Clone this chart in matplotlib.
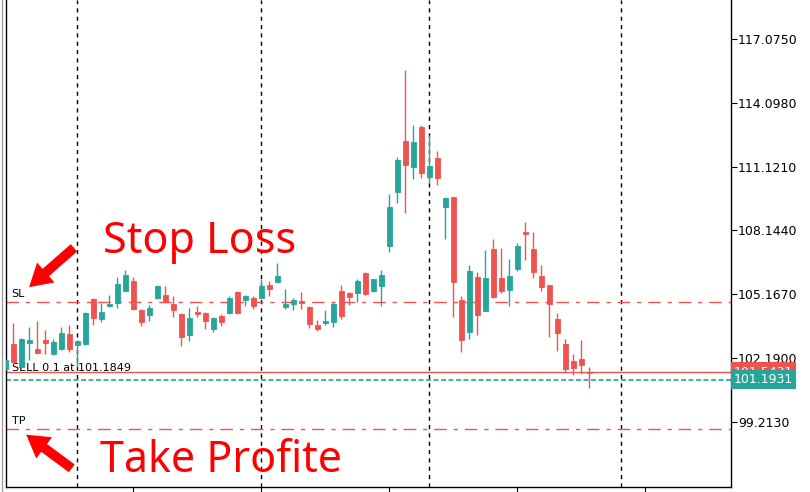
import matplotlib
matplotlib.use("Agg")
import matplotlib.pyplot as plt
from matplotlib.lines import Line2D
from matplotlib.transforms import blended_transform_factory

# candle data (open, high, low, close)
opens = [101.68, 102.85, 101.79, 102.88, 102.62, 103.04, 102.37, 102.63, 103.32, 102.80,
         102.84, 104.95, 104.00, 104.62, 104.78, 105.34, 105.79, 104.44, 104.20, 105.01,
         105.14, 104.72, 104.25, 103.27, 104.34, 104.31, 103.55, 104.16, 104.31, 105.29,
         104.90, 105.01, 105.01, 105.60, 105.76, 104.59, 104.72, 104.86, 104.59, 103.74,
         103.84, 103.89, 105.32, 105.21, 105.24, 106.18, 105.32, 105.57, 107.43, 109.95,
         112.33, 111.12, 112.98, 110.65, 111.52, 109.25, 109.72, 104.90, 103.42, 105.97,
         104.40, 107.28, 105.93, 105.38, 106.36, 108.07, 107.28, 106.02, 105.60, 104.02,
         102.85, 102.06, 102.15, 101.54]
highs = [102.20, 103.82, 103.13, 103.66, 103.94, 103.50, 103.07, 103.66, 103.74, 103.04,
         104.34, 105.00, 104.78, 105.14, 105.99, 106.30, 105.99, 104.48, 104.67, 105.60,
         105.55, 105.09, 104.30, 104.51, 104.62, 104.34, 104.11, 104.25, 105.09, 105.32,
         105.15, 105.09, 105.87, 105.80, 106.64, 105.40, 104.98, 105.29, 104.62, 103.97,
         104.44, 104.82, 105.60, 105.29, 105.87, 106.21, 105.88, 106.30, 109.85, 111.59,
         115.63, 113.06, 113.06, 112.60, 111.87, 109.72, 109.72, 105.09, 106.53, 106.19,
         107.23, 107.73, 107.33, 106.81, 107.56, 108.54, 108.07, 106.53, 105.60, 104.31,
         103.08, 102.40, 103.04, 101.78]
lows = [101.64, 102.00, 101.73, 102.10, 102.38, 102.38, 102.34, 102.57, 102.49, 101.79,
        102.80, 103.74, 103.89, 104.58, 104.51, 105.32, 104.44, 103.70, 103.92, 104.93,
        104.75, 104.12, 102.76, 103.00, 104.12, 103.55, 103.42, 103.70, 104.25, 104.25,
        104.64, 104.48, 104.98, 105.09, 105.74, 104.48, 104.44, 104.48, 103.58, 103.47,
        103.74, 103.66, 104.02, 104.67, 104.79, 105.14, 105.26, 104.64, 107.15, 109.44,
        108.97, 110.56, 110.61, 110.37, 110.27, 107.75, 104.12, 102.49, 103.08, 103.27,
        104.39, 105.00, 105.24, 104.64, 106.27, 106.77, 105.94, 105.34, 103.19, 102.54,
        101.51, 101.40, 101.45, 100.80]
closes = [102.10, 102.01, 103.07, 103.04, 102.42, 102.88, 102.94, 103.38, 102.63, 103.00,
          104.28, 104.06, 104.36, 104.70, 105.65, 106.07, 104.47, 103.89, 104.51, 105.55,
          104.79, 104.44, 103.19, 104.05, 104.25, 103.92, 104.06, 103.88, 105.01, 104.31,
          105.09, 104.64, 105.55, 105.40, 106.02, 104.72, 104.90, 104.75, 103.78, 103.55,
          103.92, 104.72, 104.16, 105.06, 105.79, 105.18, 105.87, 106.07, 109.25, 111.43,
          111.20, 112.27, 110.84, 111.15, 110.61, 109.67, 105.76, 103.04, 106.27, 104.20,
          105.93, 105.06, 105.34, 106.02, 107.42, 107.99, 106.22, 105.52, 104.73, 103.38,
          101.70, 101.74, 101.88, 101.50]

separators = [9, 32, 53, 77]          # period separator candles
time_ticks = [16, 32, 48, 64, 80]
price_ticks = [99.2130, 102.1900, 105.1670, 108.1440, 111.1210, 114.0980, 117.0750]

stop_loss = 104.81
take_profit = 98.88
ask_price = 101.5431
bid_price = 101.1931

up_col = "#26a69a"
down_col = "#ef5350"

fig = plt.figure(figsize=(8.1, 4.92), dpi=100)
ax = fig.add_axes([6 / 810, 5 / 492, 725 / 810, 487 / 492])
ax.set_xlim(0.09, 90.7)
ax.set_ylim(96.18, 118.894)

# separators
for s in separators:
    ax.axvline(s, color="black", lw=1.0, ls=(0, (3, 3)), zorder=1)

# candles
for i in range(len(opens)):
    o, h, l, c = opens[i], highs[i], lows[i], closes[i]
    col = up_col if c > o else down_col
    ax.vlines(i, l, h, color=col, lw=1.0, zorder=3)
    ax.bar(i, abs(c - o), bottom=min(o, c), width=0.62, color=col,
           edgecolor=col, linewidth=0.6, zorder=4)

# SL / TP lines
for lvl in (stop_loss, take_profit):
    ax.axhline(lvl, color="#ef5350", lw=1.0, ls=(0, (9, 5, 3, 5)), zorder=2)
ax.axhline(ask_price, color="#ef5350", lw=1.0, zorder=2)
ax.axhline(bid_price, color=up_col, lw=1.2, ls=(0, (3, 1.5)), zorder=2)

ax.text(0.8, stop_loss + 0.25, "SL", fontsize=8, color="black")
ax.text(0.8, take_profit + 0.25, "TP", fontsize=8, color="black")
ax.text(0.8, ask_price + 0.05, "SELL 0.1 at 101.1849", fontsize=8, color="black")

# axes styling
ax.spines["top"].set_visible(False)
for sp in ax.spines.values():
    sp.set_linewidth(1.0)
ax.yaxis.tick_right()
ax.set_yticks(price_ticks)
ax.set_yticklabels(["%.4f" % p for p in price_ticks], fontsize=9)
ax.tick_params(axis="y", length=4, pad=1)
ax.set_xticks(time_ticks)
ax.set_xticklabels([])
ax.tick_params(axis="x", length=5, direction="out")

# price labels on the right (bid label drawn over the ask label)
tr = blended_transform_factory(ax.transAxes, ax.transData)
ax.text(1.004, ask_price, "101.5431", transform=tr, fontsize=9, color="white",
        va="center", ha="left", clip_on=False,
        bbox=dict(boxstyle="square,pad=0.25", fc="#ef5350", ec="none"))
ax.text(1.004, bid_price, "101.1931", transform=tr, fontsize=9, color="white",
        va="center", ha="left", clip_on=False,
        bbox=dict(boxstyle="square,pad=0.25", fc=up_col, ec="none"))

# outer gray border on the left
fig.add_artist(Line2D([2 / 810, 2 / 810], [0, 1], color="#a0a0a0", lw=1.0))

# big annotations
fig.text(103 / 810, (492 - 253) / 492, "Stop Loss", fontsize=31, color="red",
         family="Noto Sans")
fig.text(100 / 810, (492 - 472) / 492, "Take Profite", fontsize=31, color="red",
         family="Noto Sans")
arrow = dict(arrowstyle="simple,head_width=1.9,head_length=1.6,tail_width=0.7",
             color="red", lw=0)
ax.annotate("", xy=(27, 492 - 289), xytext=(76, 492 - 246),
            xycoords="figure pixels", textcoords="figure pixels", arrowprops=arrow)
ax.annotate("", xy=(24, 492 - 433), xytext=(74, 492 - 470),
            xycoords="figure pixels", textcoords="figure pixels", arrowprops=arrow)

fig.savefig("out.png", dpi=100)
